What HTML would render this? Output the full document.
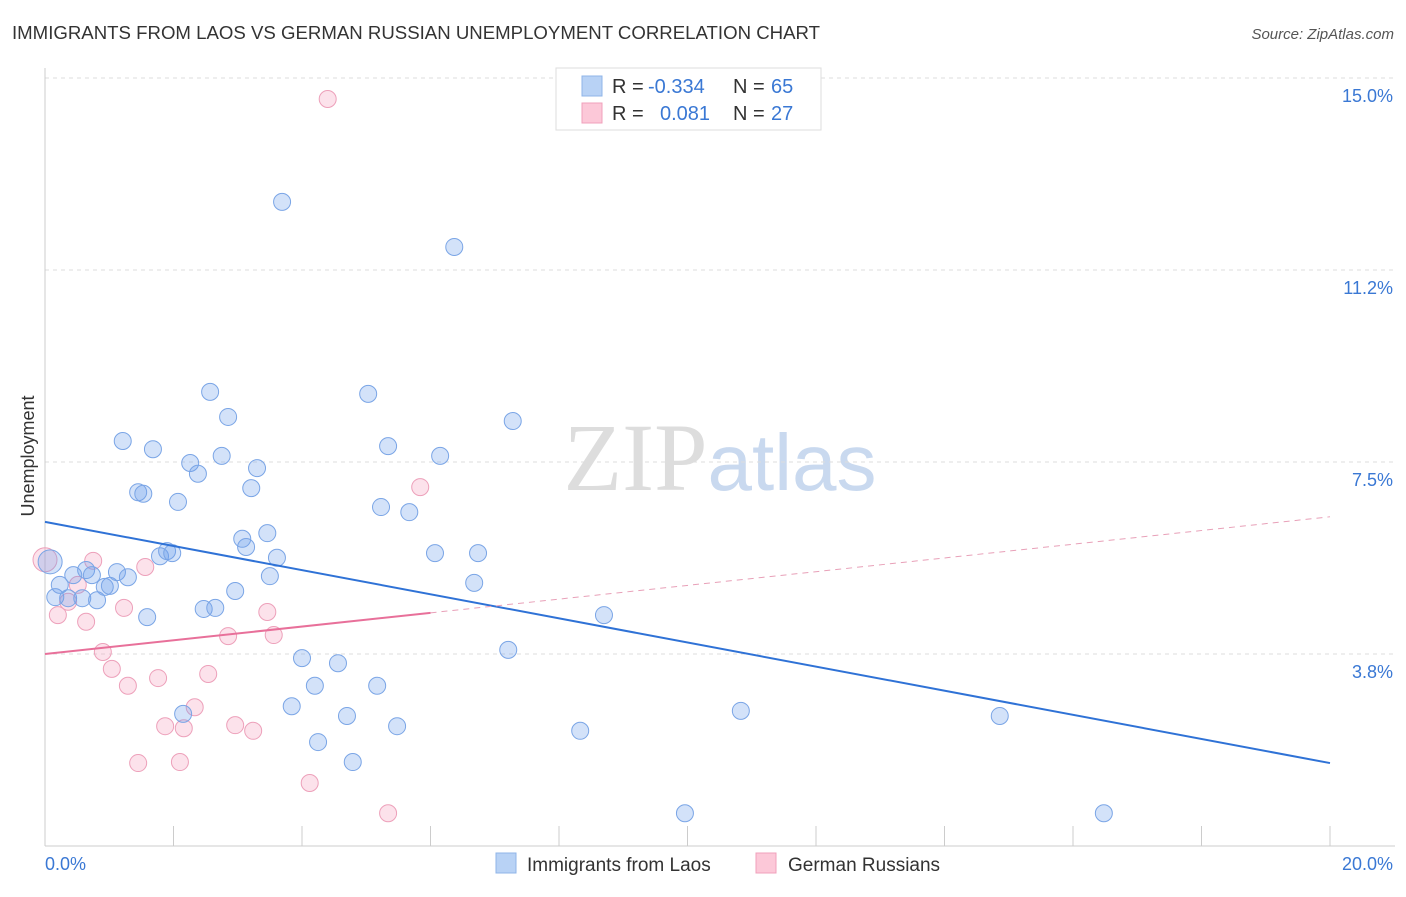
<!DOCTYPE html>
<html><head><meta charset="utf-8"><style>
body{margin:0;background:#fff;font-family:"Liberation Sans",sans-serif;}
svg text{font-family:"Liberation Sans",sans-serif;}
</style></head><body>
<svg id="chart" width="1406" height="892" xmlns="http://www.w3.org/2000/svg">
<text x="12" y="39" font-size="18" fill="#333" textLength="808" lengthAdjust="spacingAndGlyphs">IMMIGRANTS FROM LAOS VS GERMAN RUSSIAN UNEMPLOYMENT CORRELATION CHART</text>
<text x="1394" y="39" font-size="15" fill="#555" font-style="italic" text-anchor="end">Source: ZipAtlas.com</text>
<text x="720" y="490" font-size="96" text-anchor="middle"><tspan fill="#ddd" font-family="Liberation Serif">ZIP</tspan><tspan fill="#c9d9ef" font-size="80">atlas</tspan></text>
<text transform="translate(34,456) rotate(-90)" font-size="18" fill="#333" text-anchor="middle">Unemployment</text>
<g id="grid"></g><g id="axes"></g><g id="marks"></g>
<g>
<rect x="556" y="68" width="265" height="62" fill="#fff" stroke="#ddd"/>
<rect x="582" y="76" width="20" height="20" fill="#b8d2f5" stroke="#8fb4e8"/>
<rect x="582" y="103" width="20" height="20" fill="#fcc8d8" stroke="#f0a0bb"/>
<text x="612" y="93" font-size="20" fill="#333">R = <tspan x="648" fill="#3a78d4">-0.334</tspan><tspan x="733">N = </tspan><tspan x="771" fill="#3a78d4">65</tspan></text>
<text x="612" y="120" font-size="20" fill="#333">R = <tspan x="660" fill="#3a78d4">0.081</tspan><tspan x="733">N = </tspan><tspan x="771" fill="#3a78d4">27</tspan></text>
</g>
<g>
<rect x="496" y="853" width="20" height="20" fill="#b8d2f5" stroke="#8fb4e8"/>
<text x="527" y="871" font-size="19" fill="#333">Immigrants from Laos</text>
<rect x="756" y="853" width="20" height="20" fill="#fcc8d8" stroke="#f0a0bb"/>
<text x="788" y="871" font-size="19" fill="#333">German Russians</text>
</g>
</svg>
<script>
const yTicks=[15,11.25,7.5,3.75];
const yTickLabels=["15.0%","11.2%","7.5%","3.8%"];
const xEndLabels=["0.0%","20.0%"];
const blueX=[0.08,0.16,0.23,0.36,0.44,0.58,0.64,0.73,0.81,0.93,1.01,1.12,1.21,1.29,1.45,1.53,1.59,1.68,1.79,1.90,1.98,2.07,2.15,2.26,2.38,2.47,2.57,2.65,2.75,2.85,2.96,3.07,3.13,3.21,3.30,3.46,3.50,3.61,3.69,3.84,4.00,4.20,4.25,4.56,4.70,4.79,5.03,5.17,5.23,5.34,5.48,5.67,6.07,6.15,6.37,6.68,6.74,7.21,7.28,8.33,8.70,9.96,10.83,14.86,16.48];
const blueY=[5.55,4.86,5.10,4.84,5.29,4.84,5.39,5.29,4.80,5.06,5.08,5.35,7.91,5.25,6.91,6.88,4.47,7.75,5.66,5.76,5.72,6.72,2.58,7.48,7.27,4.63,8.87,4.65,7.62,8.38,4.98,6.00,5.84,6.99,7.38,6.11,5.27,5.63,12.58,2.73,3.67,3.13,2.03,3.57,2.54,1.64,8.83,3.13,6.62,7.81,2.34,6.52,5.72,7.62,11.70,5.14,5.72,3.83,8.30,2.25,4.51,0.64,2.64,2.54,0.64];
const pinkX=[0,0.20,0.36,0.51,0.64,0.75,0.90,1.04,1.23,1.29,1.45,1.56,1.76,1.87,2.10,2.16,2.33,2.54,2.85,2.96,3.24,3.46,3.56,4.12,4.40,5.34,5.84];
const pinkY=[5.59,4.51,4.77,5.10,4.38,5.57,3.79,3.46,4.65,3.13,1.62,5.45,3.28,2.34,1.64,2.30,2.71,3.36,4.10,2.36,2.25,4.57,4.12,1.23,14.59,0.64,7.01];
const blueTrend=[6.33,1.62];
const pinkTrend=[3.75,6.43];
const pinkSolidEnd=6.0;
const X=v=>45+v*64.25, Y=v=>846-v*51.2;
const NS="http://www.w3.org/2000/svg";
function mk(tag,attrs,parent){const e=document.createElementNS(NS,tag);for(const k in attrs)e.setAttribute(k,attrs[k]);document.getElementById(parent).appendChild(e);return e;}
yTicks.forEach((t,i)=>{
 const l=mk('line',{x1:45,x2:1395,y1:Y(t),y2:Y(t),stroke:'#ddd','stroke-dasharray':'4,4'},'grid');
 
 
 const tx=mk('text',{x:1393,y:Y(t)+24,'font-size':18,fill:'#3a78d4','text-anchor':'end'},'axes');
 tx.textContent=yTickLabels[i];
 
 
});
let a=mk('line',{x1:45,x2:45,y1:68,y2:846,stroke:'#ccc'},'axes');


a=mk('line',{x1:45,x2:1395,y1:846,y2:846,stroke:'#ccc'},'axes');


for(let k=1;k<=10;k++){const t=mk('line',{x1:X(k*2),x2:X(k*2),y1:826,y2:846,stroke:'#ccc'},'axes');
 
 }
[[0,'start',45],[1,'end',1393]].forEach(([i,an,x])=>{const t=mk('text',{x:x,y:870,'font-size':18,fill:'#3a78d4','text-anchor':an},'axes');t.textContent=xEndLabels[i];
 
 });
function pts(xs,ys,fill,stroke,name){xs.forEach((x,i)=>{const c=mk('circle',{cx:X(x),cy:Y(ys[i]),r:(i==0?12:8.5),fill:fill,stroke:stroke,'stroke-width':1},'marks');
 
 });}
pts(pinkX,pinkY,'rgba(245,160,190,0.3)','#eda0ba','german-russian-point');
pts(blueX,blueY,'rgba(110,160,235,0.3)','#7aa5e6','laos-point');
let l=mk('line',{x1:X(0),y1:Y(blueTrend[0]),x2:X(20),y2:Y(blueTrend[1]),stroke:'#2f72d6','stroke-width':2},'marks');


const pAt=v=>pinkTrend[0]+(pinkTrend[1]-pinkTrend[0])*v/20;
l=mk('line',{x1:X(0),y1:Y(pinkTrend[0]),x2:X(pinkSolidEnd),y2:Y(pAt(pinkSolidEnd)),stroke:'#e8709a','stroke-width':2},'marks');


l=mk('line',{x1:X(pinkSolidEnd),y1:Y(pAt(pinkSolidEnd)),x2:X(20),y2:Y(pinkTrend[1]),stroke:'#e8a0b8','stroke-width':1,'stroke-dasharray':'6,5'},'marks');


</script>
</body></html>
